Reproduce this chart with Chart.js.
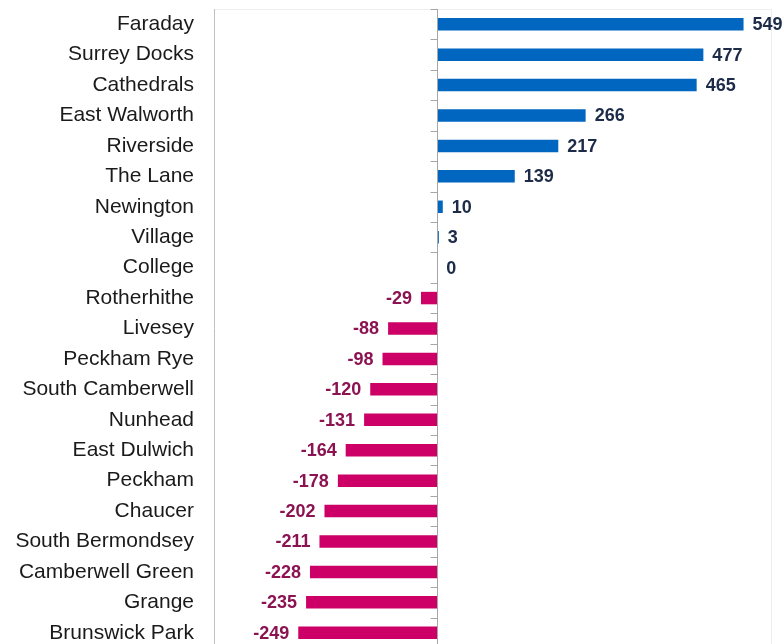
<!DOCTYPE html>
<html lang="en">
<head>
    <meta charset="UTF-8">
    <title>Ward change</title>
    <script src="https://cdn.jsdelivr.net/npm/chart.js@4.4.1/dist/chart.umd.min.js"></script>
    <style>
        html, body { margin: 0; padding: 0; overflow: hidden; background: #fff; }
        canvas { display: block; }
    </style>
</head>
<body>

<canvas id="ward-chart" width="784" height="652"></canvas>

<script>
    const wards = ['Faraday', 'Surrey Docks', 'Cathedrals', 'East Walworth', 'Riverside', 'The Lane',
        'Newington', 'Village', 'College', 'Rotherhithe', 'Livesey', 'Peckham Rye', 'South Camberwell',
        'Nunhead', 'East Dulwich', 'Peckham', 'Chaucer', 'South Bermondsey', 'Camberwell Green',
        'Grange', 'Brunswick Park'];
    const changes = [549, 477, 465, 266, 217, 139, 10, 3, 0, -29, -88, -98, -120, -131, -164, -178,
        -202, -211, -228, -235, -249];
    const axisMin = -400;
    const axisMax = 600;

    const FONT = '"Liberation Sans", Arial, sans-serif';

    // value labels at the end of each bar
    const valueLabels = {
        id: 'valueLabels',
        afterDatasetsDraw(chart) {
            const ctx = chart.ctx;
            const meta = chart.getDatasetMeta(0);
            ctx.save();
            ctx.font = 'bold 18px ' + FONT;
            ctx.textBaseline = 'middle';
            meta.data.forEach((bar, i) => {
                const v = changes[i];
                const neg = v < 0;
                ctx.fillStyle = neg ? '#8c1352' : '#1c2b48';
                ctx.textAlign = neg ? 'right' : 'left';
                ctx.fillText(String(v), bar.x + (neg ? -9 : 9), bar.y + 1);
            });
            ctx.restore();
        }
    };

    // plot frame plus the zero axis with its category tick marks
    const frame = {
        id: 'frame',
        beforeDatasetsDraw(chart) {
            const ctx = chart.ctx;
            const a = chart.chartArea;
            ctx.save();
            ctx.lineWidth = 1;
            ctx.strokeStyle = '#ededed';
            ctx.beginPath();
            ctx.moveTo(a.left, a.top + 0.5);
            ctx.lineTo(a.right - 0.5, a.top + 0.5);
            ctx.lineTo(a.right - 0.5, a.bottom);
            ctx.stroke();
            ctx.strokeStyle = '#c0c0c0';
            ctx.beginPath();
            ctx.moveTo(a.left + 0.5, a.top);
            ctx.lineTo(a.left + 0.5, a.bottom);
            ctx.stroke();
            ctx.restore();
        },
        afterDatasetsDraw(chart) {
            const ctx = chart.ctx;
            const a = chart.chartArea;
            const x0 = Math.round(chart.scales.x.getPixelForValue(0)) + 0.5;
            const step = (a.bottom - a.top) / wards.length;
            ctx.save();
            ctx.lineWidth = 1;
            ctx.strokeStyle = '#a6a6a6';
            ctx.beginPath();
            ctx.moveTo(x0, a.top);
            ctx.lineTo(x0, a.bottom);
            for (let i = 0; i <= wards.length; i++) {
                const y = Math.round(a.top + i * step) + 0.5;
                ctx.moveTo(x0 - 7, y);
                ctx.lineTo(x0, y);
            }
            ctx.stroke();
            ctx.restore();
        }
    };

    new Chart('ward-chart', {
        type: 'bar',
        data: {
            labels: wards,
            datasets: [{
                data: changes,
                backgroundColor: changes.map(v => v < 0 ? '#cc0066' : '#0066c0'),
                categoryPercentage: 1,
                barPercentage: 0.41
            }]
        },
        options: {
            indexAxis: 'y',
            responsive: false,
            animation: false,
            layout: { padding: { top: 9, right: 12, bottom: 4, left: 0 } },
            plugins: {
                legend: { display: false },
                tooltip: { enabled: false }
            },
            scales: {
                x: {
                    display: false,
                    min: axisMin,
                    max: axisMax
                },
                y: {
                    grid: { display: false, drawTicks: false },
                    border: { display: false },
                    afterFit(scale) {
                        scale.width = 214;
                        scale.paddingTop = 0;
                        scale.paddingBottom = 0;
                    },
                    ticks: {
                        color: '#1a1a1a',
                        padding: 20,
                        autoSkip: false,
                        font: { family: FONT, size: 21 }
                    }
                }
            }
        },
        plugins: [frame, valueLabels]
    });
</script>

</body>
</html>
